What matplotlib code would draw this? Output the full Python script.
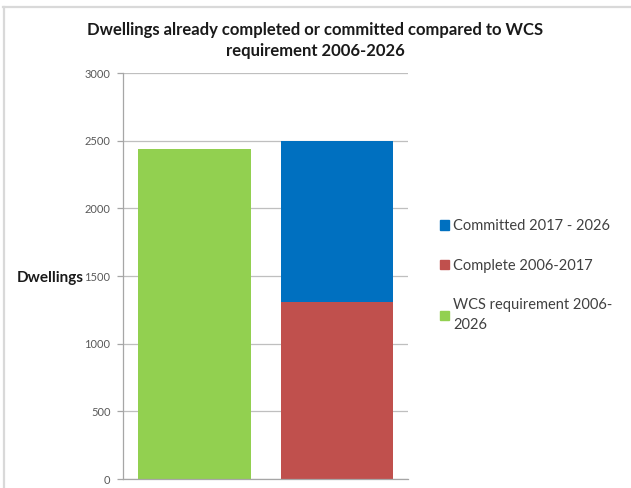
import matplotlib.pyplot as plt
from matplotlib.patches import Patch
from matplotlib.lines import Line2D

# data
categories = ["Requirement", "Delivery"]
wcs_requirement = [2440, 0]
complete = [0, 1310]
committed = [0, 1190]

label_committed = "Committed 2017 - 2026"
label_complete = "Complete 2006-2017"
label_wcs = "WCS requirement 2006-\n2026"

green = "#92D050"
red = "#C0504D"
blue = "#0070C0"

plt.rcParams['font.family'] = ['Lato', 'DejaVu Sans']

fig = plt.figure(figsize=(6.31, 4.88), dpi=100)
ax = fig.add_axes([0.195, 0.0184, 0.452, 0.832])

x = range(len(categories))
w = 0.79
ax.bar(x, wcs_requirement, width=w, color=green, zorder=2)
ax.bar(x, complete, width=w, color=red, zorder=2)
ax.bar(x, committed, width=w, bottom=complete, color=blue, zorder=2)

ax.set_xlim(-0.5, 1.5)
ax.set_ylim(0, 3000)
ax.set_yticks(range(0, 3001, 500))
ax.set_xticks([])
ax.yaxis.grid(True, color="#bfbfbf", linewidth=0.9, zorder=0)
for s in ["top", "right"]:
    ax.spines[s].set_visible(False)
for s in ["left", "bottom"]:
    ax.spines[s].set_color("#a6a6a6")
    ax.spines[s].set_linewidth(0.9)
ax.tick_params(axis="y", colors="#a6a6a6", labelcolor="#595959", labelsize=8,
               length=4, width=0.9, pad=5)

ax.set_ylabel("Dwellings", rotation=0, fontsize=11, fontweight="bold",
              color="#1a1a1a", ha="center", va="center")
ax.yaxis.set_label_coords(-0.256, 0.495)

fig.suptitle("Dwellings already completed or committed compared to WCS\nrequirement 2006-2026",
             x=0.5, y=0.955, fontsize=12, fontweight="bold", color="#1a1a1a",
             linespacing=1.35)

handles = [Patch(color=blue), Patch(color=red), Patch(color=green)]
leg = fig.legend(handles, [label_committed, label_complete, label_wcs],
                 loc="upper left", bbox_to_anchor=(0.677, 0.578), frameon=False,
                 fontsize=10.5, handlelength=0.6, handleheight=0.6, handletextpad=0.3,
                 labelspacing=1.75, labelcolor="#404040")
for t in leg.get_texts():
    t.set_linespacing(1.5)

# light border at the top and left of the image
fig.add_artist(Line2D([0.005, 1], [0.986, 0.986], transform=fig.transFigure,
                      color="#d9d9d9", linewidth=1.6))
fig.add_artist(Line2D([0.006, 0.006], [0, 0.986], transform=fig.transFigure,
                      color="#d9d9d9", linewidth=1.6))

fig.savefig("out.png", dpi=100)
